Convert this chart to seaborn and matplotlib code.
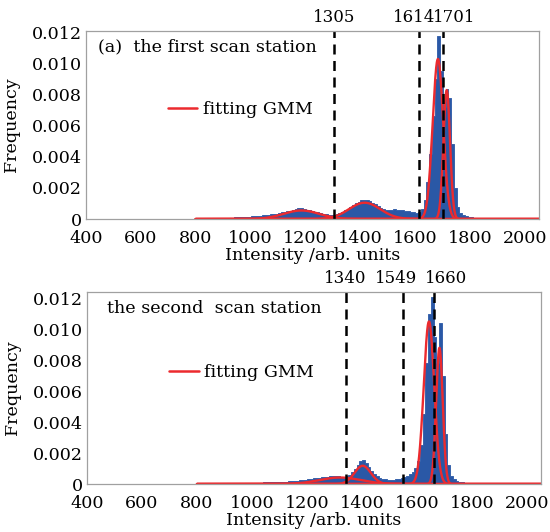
import numpy as np
import pandas as pd
import matplotlib
matplotlib.use("Agg")
import matplotlib.pyplot as plt
from matplotlib.lines import Line2D
import seaborn as sns

# ---- histogram data (frequency per 10-unit intensity bin, in units of 1e-4) ----
BIN_W = 10

top_bin_start = 450
top_freq_e4 = (
    [0.1] * 45 +
    [0.6, 0.7, 0.8, 0.9, 1.0, 1.1, 1.2, 1.4, 1.5, 1.6,
     1.8, 1.9, 2.0, 2.2, 2.3, 2.5, 2.7, 3.0, 3.2, 3.5,
     3.8, 4.2, 4.5, 5.0, 5.4, 5.8, 6.3, 6.8, 7.4, 6.6,
     6.0, 5.6, 5.2, 4.8, 4.3, 3.8, 3.4, 3.0, 2.7, 2.6,
     2.8, 3.4, 3.9, 4.6, 5.5, 6.5, 7.6, 8.8, 10.0, 11.2,
     12.0, 12.5, 12.2, 11.5, 10.5, 9.4, 8.2, 7.2, 6.4, 6.0,
     5.6, 5.6, 6.2, 6.0, 5.8, 5.6, 5.4, 5.0, 4.6, 4.2,
     4.0, 4.5, 6.5, 12, 24, 42, 66, 90, 118, 95,
     72, 84, 78, 48, 20, 8, 4, 2.6, 2.0, 1.5,
     1.0, 0.7, 0.5, 0.4, 0.3, 0.2]
)

bot_bin_start = 650
bot_freq_e4 = (
    [0.1] * 25 +
    [0.3, 0.3, 0.4, 0.4, 0.5, 0.5, 0.6, 0.6, 0.7, 0.7,
     0.8, 0.8, 0.9, 0.9, 1.0, 1.0, 1.1, 1.2, 1.2, 1.3,
     1.4, 1.5, 1.6, 1.7, 1.8, 2.0, 2.2, 2.4, 2.6, 2.8,
     3.0, 3.3, 3.6, 3.9, 4.2, 4.4, 4.6, 4.8, 5.0, 5.0,
     5.0, 4.9, 4.8, 4.8, 5.0, 6.0, 7.8, 10.0, 12.5, 15.0,
     15.5, 13.5, 11.0, 8.5, 6.5, 5.0, 4.0, 3.4, 3.0, 2.8,
     2.8, 2.9, 3.1, 3.4, 3.8, 4.4, 5.2, 6.2, 7.8, 10.5,
     15, 25, 45, 78, 110, 121, 95, 78, 104, 70,
     32, 12, 5, 3, 2.2, 1.6, 1.2, 0.9, 0.7, 0.5,
     0.4, 0.3, 0.2, 0.2, 0.1, 0.1]
)

# ---- fitted GMM components: mean, standard deviation, peak height ----
top_gmm_mean = [1185, 1415, 1682, 1714]
top_gmm_sd = [65, 57, 19, 12]
top_gmm_peak = [0.00055, 0.00105, 0.0103, 0.0083]

bot_gmm_mean = [1320, 1402, 1643, 1681]
bot_gmm_sd = [75, 30, 19, 12]
bot_gmm_peak = [0.00042, 0.00118, 0.0105, 0.0088]

# ---- segmentation thresholds ----
top_thresholds = [1305, 1614, 1701]
bot_thresholds = [1340, 1549, 1660]
# horizontal nudges (points) so adjacent labels sit side by side
top_label_dx = [0, -4, 8]
bot_label_dx = [0, -5, 9]

top_caption = "(a)  the first scan station"
bot_caption = "the second  scan station"

x_ticks = [400, 600, 800, 1000, 1200, 1400, 1600, 1800, 2000]
y_ticks = [0, 0.002, 0.004, 0.006, 0.008, 0.010, 0.012]
y_tick_labels = ["0", "0.002", "0.004", "0.006", "0.008", "0.010", "0.012"]

HIST_COLOR = "#2a58a6"
FIT_COLOR = "#ec2a2e"
SPINE_COLOR = "#a0a0a0"

sns.set_theme(style="white")
plt.rcParams["font.family"] = ["DejaVu Serif"]
plt.rcParams["mathtext.fontset"] = "dejavuserif"
plt.rcParams["text.color"] = "black"
plt.rcParams["axes.labelcolor"] = "black"
plt.rcParams["xtick.labelcolor"] = "black"
plt.rcParams["ytick.labelcolor"] = "black"
FS = 12
FS_LABEL = 12.6

fig = plt.figure(figsize=(5.5, 5.32), dpi=100)
ax_top = fig.add_axes([0.156, 0.5883, 0.824, 0.3534])
ax_bot = fig.add_axes([0.158, 0.0902, 0.8256, 0.3608])


def draw_panel(ax, bin_start, freq_e4, means, sds, peaks, thresholds, label_dx,
               caption, ymax):
    n = len(freq_e4)
    centers = bin_start + BIN_W * (np.arange(n) + 0.5)
    hist_df = pd.DataFrame({"intensity": centers,
                            "freq": np.array(freq_e4) * 1e-4})
    sns.histplot(data=hist_df, x="intensity", weights="freq",
                 binwidth=BIN_W, binrange=(bin_start, bin_start + BIN_W * n),
                 element="step", fill=True, color=HIST_COLOR, alpha=1.0,
                 linewidth=0.6, edgecolor=HIST_COLOR, ax=ax)

    # each Gaussian component of the mixture
    xs = np.linspace(800, 2050, 1500)
    for m, s, p in zip(means, sds, peaks):
        comp = pd.DataFrame({"x": xs, "y": p * np.exp(-0.5 * ((xs - m) / s) ** 2)})
        sns.lineplot(data=comp, x="x", y="y", color=FIT_COLOR, linewidth=1.7,
                     ax=ax, legend=False)

    for t, dx in zip(thresholds, label_dx):
        ax.axvline(t, ymin=0, ymax=1, color="black", linestyle=(0, (4, 2.6)),
                   linewidth=1.8)
        ax.annotate(str(t), xy=(t, 1.0), xycoords=("data", "axes fraction"),
                    xytext=(dx, 3.5), textcoords="offset points",
                    ha="center", va="bottom", fontsize=FS, color="black")

    ax.set_xlim(400, 2050)
    ax.set_ylim(0, ymax)
    ax.set_xticks(x_ticks)
    ax.set_xticklabels([str(v) for v in x_ticks], fontsize=FS_LABEL)
    ax.set_yticks(y_ticks)
    ax.set_yticklabels(y_tick_labels, fontsize=FS_LABEL)
    ax.tick_params(axis="x", direction="in", length=3, width=0.8,
                   color="#b0b0b0", pad=8)
    ax.tick_params(axis="y", length=0, pad=3)
    ax.set_xlabel("Intensity /arb. units", fontsize=FS_LABEL, labelpad=0)
    ax.set_ylabel("Frequency", fontsize=FS_LABEL, labelpad=8)
    for sp in ax.spines.values():
        sp.set_color(SPINE_COLOR)
        sp.set_linewidth(0.9)

    ax.text(0.028 if caption.startswith("(") else 0.045, 0.915, caption,
            transform=ax.transAxes, ha="left", va="center", fontsize=FS_LABEL)

    handle = Line2D([], [], color=FIT_COLOR, linewidth=1.8)
    ax.legend([handle], ["fitting GMM"], loc="center left",
              bbox_to_anchor=(0.165, 0.58), frameon=False, fontsize=FS_LABEL,
              handlelength=1.7, handletextpad=0.3, borderaxespad=0)


draw_panel(ax_top, top_bin_start, top_freq_e4, top_gmm_mean, top_gmm_sd,
           top_gmm_peak, top_thresholds, top_label_dx, top_caption, 0.0121)
draw_panel(ax_bot, bot_bin_start, bot_freq_e4, bot_gmm_mean, bot_gmm_sd,
           bot_gmm_peak, bot_thresholds, bot_label_dx, bot_caption, 0.0124)

fig.savefig("out.png", dpi=100)
